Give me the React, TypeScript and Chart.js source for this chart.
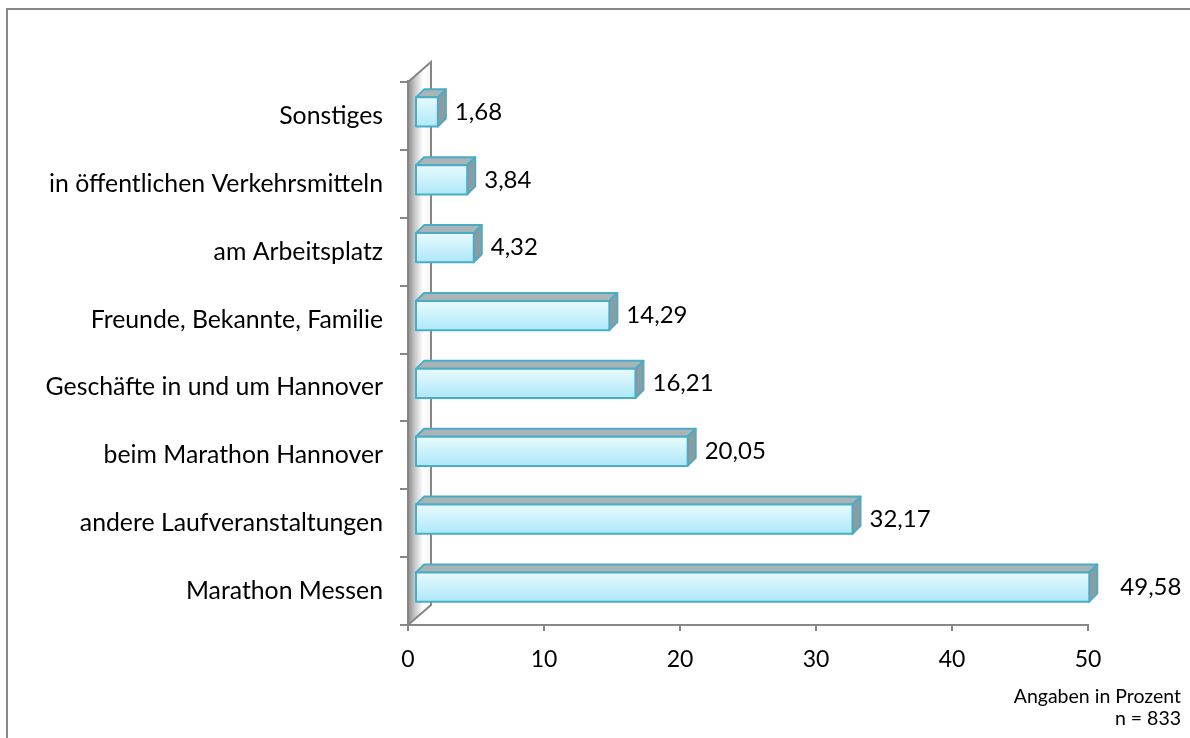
import React, { useEffect, useRef } from "react";
import { Chart, registerables } from "chart.js";

Chart.register(...registerables);

const categories = [
  "Sonstiges",
  "in öffentlichen Verkehrsmitteln",
  "am Arbeitsplatz",
  "Freunde, Bekannte, Familie",
  "Geschäfte in und um Hannover",
  "beim Marathon Hannover",
  "andere Laufveranstaltungen",
  "Marathon Messen",
];
const values = [1.68, 3.84, 4.32, 14.29, 16.21, 20.05, 32.17, 49.58];
const xTickMax = 50;
const xTickStep = 10;
const noteLines = ["Angaben in Prozent", "n = 833"];

const FONT = "Lato, 'Open Sans', sans-serif";
const AXIS_GRAY = "#868686";

const fmt = (v: number) => v.toFixed(2).replace(".", ",");

const wallPlugin = {
  id: "wall3d",
  beforeDatasetsDraw(chart: any) {
    const { ctx, chartArea } = chart;
    const L = chartArea.left;
    const T = chartArea.top;
    const B = chartArea.bottom;
    const dx = 23;
    const dy = -20;
    ctx.save();
    const g = ctx.createLinearGradient(L, 0, L + dx, 0);
    g.addColorStop(0, "#8a8a8a");
    g.addColorStop(0.3, "#c8c8c8");
    g.addColorStop(0.65, "#ffffff");
    g.addColorStop(1, "#f4f4f4");
    ctx.beginPath();
    ctx.moveTo(L, T);
    ctx.lineTo(L + dx, T + dy);
    ctx.lineTo(L + dx, B + dy);
    ctx.lineTo(L, B);
    ctx.closePath();
    ctx.fillStyle = g;
    ctx.fill();
    ctx.strokeStyle = AXIS_GRAY;
    ctx.lineWidth = 2;
    ctx.beginPath();
    ctx.moveTo(L, T);
    ctx.lineTo(L + dx, T + dy);
    ctx.lineTo(L + dx, B + dy);
    ctx.lineTo(L, B);
    ctx.stroke();
    ctx.beginPath();
    ctx.moveTo(L, T - 2);
    ctx.lineTo(L, B + 4);
    ctx.stroke();
    ctx.restore();
  },
};

const bar3dPlugin = {
  id: "bar3d",
  afterDatasetsDraw(chart: any) {
    const { ctx } = chart;
    const meta = chart.getDatasetMeta(0);
    const ox = 7;
    const oy = -4;
    const dx = 8;
    const dy = -8;
    ctx.save();
    ctx.lineJoin = "round";
    meta.data.forEach((el: any, i: number) => {
      const h = el.height;
      const x0 = el.base + ox;
      const x1 = el.x + ox;
      const yc = el.y + oy;
      const y0 = yc - h / 2;
      const y1 = yc + h / 2;
      // top face
      ctx.beginPath();
      ctx.moveTo(x0, y0);
      ctx.lineTo(x0 + dx, y0 + dy);
      ctx.lineTo(x1 + dx, y0 + dy);
      ctx.lineTo(x1, y0);
      ctx.closePath();
      ctx.fillStyle = "#a9b4b7";
      ctx.fill();
      ctx.strokeStyle = "#4bacc6";
      ctx.lineWidth = 2;
      ctx.stroke();
      // right face
      ctx.beginPath();
      ctx.moveTo(x1, y0);
      ctx.lineTo(x1 + dx, y0 + dy);
      ctx.lineTo(x1 + dx, y1 + dy);
      ctx.lineTo(x1, y1);
      ctx.closePath();
      ctx.fillStyle = "#8d9ca0";
      ctx.fill();
      ctx.stroke();
      // front face
      const g = ctx.createLinearGradient(0, y0, 0, y1);
      g.addColorStop(0, "#e8fafe");
      g.addColorStop(1, "#ade8f8");
      ctx.fillStyle = g;
      ctx.fillRect(x0, y0, x1 - x0, h);
      ctx.strokeRect(x0, y0, x1 - x0, h);
      // label
      ctx.fillStyle = "#000";
      ctx.font = `24px ${FONT}`;
      ctx.textAlign = "left";
      ctx.textBaseline = "middle";
      const extra = i === values.length - 1 ? 14 : 0;
      ctx.fillText(fmt(values[i]), x1 + dx + 9 + extra, yc);
    });
    ctx.restore();
  },
  afterDraw(chart: any) {
    const { ctx, width, height } = chart;
    ctx.save();
    ctx.strokeStyle = "#878787";
    ctx.lineWidth = 2;
    ctx.beginPath();
    ctx.moveTo(7, height + 2);
    ctx.lineTo(7, 9);
    ctx.lineTo(width + 2, 9);
    ctx.stroke();
    ctx.fillStyle = "#000";
    ctx.font = `19.5px ${FONT}`;
    ctx.textAlign = "right";
    ctx.textBaseline = "middle";
    ctx.fillText(noteLines[0], 1181, 697);
    ctx.fillText(noteLines[1], 1181, 719);
    ctx.restore();
  },
};

export default function App() {
  const ref = useRef<HTMLCanvasElement>(null);
  useEffect(() => {
    if (!ref.current) return;
    const chart = new Chart(ref.current, {
      type: "bar",
      data: {
        labels: categories,
        datasets: [
          {
            data: values,
            backgroundColor: "rgba(0,0,0,0)",
            borderWidth: 0,
            barPercentage: 0.43,
            categoryPercentage: 1,
          },
        ],
      },
      options: {
        indexAxis: "y",
        animation: false,
        responsive: false,
        maintainAspectRatio: false,
        devicePixelRatio: 1,
        layout: { padding: { left: 0, right: 102, top: 82, bottom: 0 } },
        plugins: { legend: { display: false }, tooltip: { enabled: false } },
        scales: {
          x: {
            min: 0,
            max: xTickMax,
            ticks: {
              stepSize: xTickStep,
              color: "#000",
              font: { size: 23, family: FONT },
              padding: 15,
            },
            grid: {
              drawOnChartArea: false,
              drawTicks: true,
              tickLength: 6,
              color: AXIS_GRAY,
              lineWidth: 2,
            },
            border: { color: AXIS_GRAY, width: 2 },
            afterFit: (s: any) => {
              s.height = 113;
            },
          },
          y: {
            ticks: {
              color: "#000",
              font: { size: 24.8, family: FONT },
              padding: 17,
            },
            grid: {
              drawOnChartArea: false,
              drawTicks: true,
              tickLength: 8,
              color: AXIS_GRAY,
              lineWidth: 2,
              offset: true,
            },
            border: { color: AXIS_GRAY, width: 2 },
            afterFit: (s: any) => {
              s.width = 408;
            },
          },
        },
      },
      plugins: [wallPlugin, bar3dPlugin],
    } as any);
    return () => chart.destroy();
  }, []);
  return (
    <div style={{ position: "fixed", left: 0, top: 0, width: 1190, height: 738, background: "#fff" }}>
      <canvas ref={ref} width={1190} height={738} />
    </div>
  );
}
